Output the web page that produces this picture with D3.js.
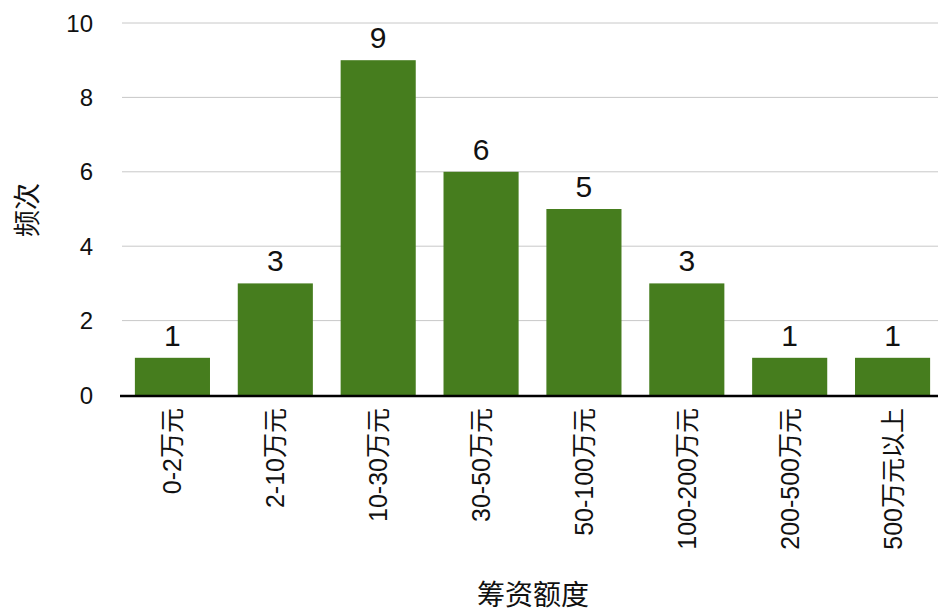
<!DOCTYPE html>
<html>
<head>
<meta charset="utf-8">
<script src="https://cdn.jsdelivr.net/npm/d3@7"></script>
<style>
  body { margin: 0; background: #fff; }
  text { font-family: "Liberation Sans", Arial, "Noto Sans CJK SC", sans-serif; fill: #111; }
</style>
</head>
<body>
<svg id="chart" width="938" height="610"></svg>
<script>
var categories = ["0-2万元", "2-10万元", "10-30万元", "30-50万元", "50-100万元", "100-200万元", "200-500万元", "500万元以上"];
var counts = [1, 3, 9, 6, 5, 3, 1, 1];
var yTicks = [0, 2, 4, 6, 8, 10];

var svg = d3.select("#chart");

var x = d3.scaleBand()
  .domain(categories)
  .range([121, 944])
  .paddingInner(0.27)
  .paddingOuter(0.135);

var y = d3.scaleLinear()
  .domain([0, 10])
  .range([395, 23]);

// gridlines
svg.append("g")
  .selectAll("line")
  .data(yTicks.filter(function(d) { return d > 0; }))
  .enter().append("line")
  .attr("x1", 122).attr("x2", 938)
  .attr("y1", function(d) { return y(d); })
  .attr("y2", function(d) { return y(d); })
  .attr("stroke", "#c8c8c8")
  .attr("stroke-width", 1);

// y tick labels
svg.append("g")
  .selectAll("text")
  .data(yTicks)
  .enter().append("text")
  .attr("x", 93)
  .attr("y", function(d) { return y(d); })
  .attr("dy", "0.36em")
  .attr("text-anchor", "end")
  .style("font-size", "24px")
  .text(function(d) { return d; });

// bars
svg.append("g")
  .selectAll("rect")
  .data(counts)
  .enter().append("rect")
  .attr("x", function(d, i) { return x(categories[i]); })
  .attr("width", x.bandwidth())
  .attr("y", function(d) { return y(d); })
  .attr("height", function(d) { return y(0) - y(d); })
  .attr("fill", "#467d1e");

// value labels
svg.append("g")
  .selectAll("text")
  .data(counts)
  .enter().append("text")
  .attr("x", function(d, i) { return x(categories[i]) + x.bandwidth() / 2; })
  .attr("y", function(d) { return y(d) - 12; })
  .attr("text-anchor", "middle")
  .style("font-size", "30px")
  .text(function(d) { return d; });

// baseline
svg.append("line")
  .attr("x1", 120).attr("x2", 938)
  .attr("y1", y(0) + 1).attr("y2", y(0) + 1)
  .attr("stroke", "#000")
  .attr("stroke-width", 2.5);

// category labels, rotated
svg.append("g")
  .selectAll("text")
  .data(categories)
  .enter().append("text")
  .attr("transform", function(d) {
    return "translate(" + (x(d) + x.bandwidth() / 2) + ",408) rotate(-90)";
  })
  .attr("dy", "0.36em")
  .attr("text-anchor", "end")
  .style("font-size", "25px")
  .text(function(d) { return d; });

// axis titles
svg.append("text")
  .attr("transform", "translate(27,210) rotate(-90)")
  .attr("dy", "0.36em")
  .attr("text-anchor", "middle")
  .style("font-size", "27px")
  .text("频次");

svg.append("text")
  .attr("x", 533)
  .attr("y", 595)
  .attr("dy", "0.36em")
  .attr("text-anchor", "middle")
  .style("font-size", "28px")
  .text("筹资额度");
</script>
</body>
</html>
